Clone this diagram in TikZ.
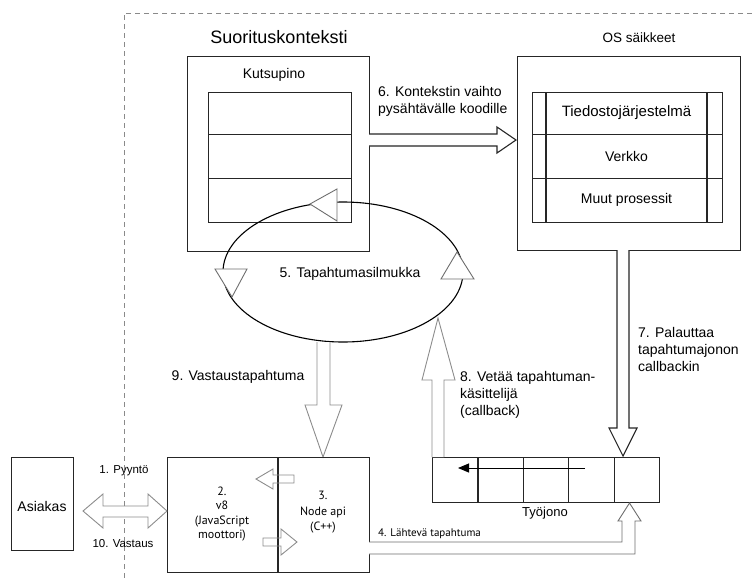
\documentclass[tikz,border=0pt]{standalone}
\usepackage{fontspec}
\setmainfont{Liberation Sans}
\newfontfamily\ptsans{PT Sans}
\usetikzlibrary{arrows.meta,calc}
\definecolor{boxcol}{HTML}{262626}
\definecolor{arrgray}{HTML}{8C8C8C}
\definecolor{headgray}{HTML}{6E6E6E}
\definecolor{dashcol}{HTML}{8A8A8A}
\begin{document}
\begin{tikzpicture}[x=1pt,y=-1pt,
  box/.style={draw=boxcol, line width=1.1pt, inner sep=0pt, anchor=north west},
  lbl/.style={inner sep=0pt, font=\fontsize{14}{17}\selectfont},
  small/.style={inner sep=0pt, font=\fontsize{11.5}{14}\selectfont},
  engine/.style={inner sep=0pt, align=center, font=\ptsans\fontsize{12}{14.5}\selectfont},
  hollow/.style={draw=arrgray, line width=0.9pt, fill=white, line join=miter},
  darkhollow/.style={draw=boxcol, line width=1.1pt, fill=white, line join=miter},
  loopline/.style={draw=black, line width=1.1pt},
  loophead/.style={draw=headgray, line width=0.9pt, fill=white, line join=miter},
  border/.style={draw=dashcol, dash pattern=on 5pt off 4pt, line width=0.7pt}]
\useasboundingbox (0,0) rectangle (752,579);

% system boundary
\coordinate (bcorner) at (124,13);
\coordinate (bright) at (752,13);
\coordinate (bbottom) at (124,579);
\draw[border] (bright) -- (bcorner) -- (bbottom);

% execution context with call stack
\node[lbl, font=\fontsize{18}{20}\selectfont] (ctxtitle) at (279,37) {Suorituskonteksti};
\node[box, minimum width=182pt, minimum height=195pt] (ctx) at (187,56) {};
\node[lbl] (stacktitle) at (274,75) {Kutsupino};
\node[box, minimum width=143pt, minimum height=42pt] (st1) at (208,92) {};
\node[box, minimum width=143pt, minimum height=44pt] (st2) at (208,134) {};
\node[box, minimum width=143pt, minimum height=44pt] (st3) at (208,178) {};

% OS threads
\node[lbl, font=\fontsize{13.5}{16}\selectfont] (ostitle) at (639,38) {OS säikkeet};
\node[box, minimum width=223pt, minimum height=194pt] (os) at (517,56) {};
\node[box, minimum width=190pt, minimum height=42pt] (os1) at (532,92) {};
\node[box, minimum width=190pt, minimum height=44pt] (os2) at (532,134) {};
\node[box, minimum width=190pt, minimum height=44pt] (os3) at (532,178) {};
\draw[boxcol, line width=1.1pt] (546,92) -- (546,222);
\draw[boxcol, line width=1.1pt] (707,92) -- (707,222);
\node[lbl, font=\fontsize{15}{17}\selectfont] at (626.5,113) {Tiedostojärjestelmä};
\node[lbl] at (626.5,156) {Verkko};
\node[lbl] at (626.5,200) {Muut prosessit};

% 6. context switch
\draw[darkhollow] (369,134) -- (497,134) -- (497,127) -- (516,140) -- (497,153) -- (497,146) -- (369,146);
\node[lbl, align=left, anchor=west] (lbl6) at (378,101) {6. Kontekstin vaihto\\pysähtävälle koodille};

% 7. back to the queue
\draw[darkhollow] (617,250) -- (617,428) -- (609,428) -- (623,456) -- (637,428) -- (629,428) -- (629,250);
\node[lbl, align=left, anchor=west] (lbl7) at (638,349) {7. Palauttaa\\tapahtumajonon\\callbackin};

% event loop
\draw[loopline] (343,272) ellipse [x radius=120pt, y radius=70pt];
\draw[loophead] (337,189) -- (337,221) -- (310,204) -- cycle;
\draw[loophead] (215,269) -- (247,269) -- (232,297) -- cycle;
\draw[loophead] (441,279) -- (474,279) -- (457,252) -- cycle;
\node[lbl] (loop) at (350,274) {5. Tapahtumasilmukka};

% work queue
\node[box, minimum width=45.4pt, minimum height=45pt] (q1) at (432,457) {};
\node[box, minimum width=45.4pt, minimum height=45pt] (q2) at (477.4,457) {};
\node[box, minimum width=45.4pt, minimum height=45pt] (q3) at (522.8,457) {};
\node[box, minimum width=45.4pt, minimum height=45pt] (q4) at (568.2,457) {};
\node[box, minimum width=45.4pt, minimum height=45pt] (q5) at (613.6,457) {};
\coordinate (qfrom) at (585,468);
\coordinate (qto) at (458,468);
\draw[black, line width=1pt, -{Triangle[length=11pt,width=9pt]}] (qfrom) -- (qto);
\node[lbl, font=\fontsize{13}{15}\selectfont] (queue) at (545,513) {Työjono};

% 8. handler pulled from the queue
\draw[hollow] (432,457) -- (432,380) -- (422,380) -- (438,318) -- (455,380) -- (444,380) -- (444,457);
\node[lbl, align=left, anchor=west] (lbl8) at (460,395) {8. Vetää tapahtuman-\\käsittelijä\\(callback)};

% 9. response event
\draw[hollow] (317,342) -- (317,405) -- (305,405) -- (323,457) -- (342,405) -- (330,405) -- (330,342);
\node[lbl] (lbl9) at (238,377) {9. Vastaustapahtuma};

% client
\node[box, minimum width=62pt, minimum height=93pt] (client) at (11,457) {};
\node[lbl] at (42,506) {Asiakas};

% engine and node api
\node[box, minimum width=202pt, minimum height=115pt] (engine) at (167,457) {};
\draw[boxcol, line width=1.1pt] (278,457) -- (278,572);
\node[engine] (v8) at (222,514) {2.\\v8\\(JavaScript\\moottori)};
\node[engine, font=\ptsans\fontsize{12}{15.5}\selectfont] (api) at (323,512.5) {3.\\Node api\\(C++)};
\draw[draw=arrgray, line width=0.9pt, line join=miter] (294,475) -- (273,475) -- (273,469) -- (256,479) -- (273,489) -- (273,483) -- (294,483) -- cycle;
\draw[draw=arrgray, line width=0.9pt, line join=miter] (263,538) -- (281,538) -- (281,529) -- (297,542) -- (281,555) -- (281,546) -- (263,546) -- cycle;

% 1. request / 10. response
\draw[hollow] (83,511) -- (103,494) -- (103,506) -- (148,506) -- (148,494) -- (167,511) -- (148,528) -- (148,517) -- (103,517) -- (103,528) -- cycle;
\node[small] (lbl1) at (124,471) {1. Pyyntö};
\node[small] (lbl10) at (123,544) {10. Vastaus};

% 4. outgoing event
\draw[draw=headgray, line width=0.9pt, fill=white, line join=miter] (369,542) -- (622,542) -- (622,521) -- (618,521) -- (629.5,503) -- (641,521) -- (635,521) -- (635,554) -- (369,554);
\node[inner sep=0pt, anchor=west, font=\ptsans\fontsize{11}{13}\selectfont] (lbl4) at (378,534) {4. Lähtevä tapahtuma};
\end{tikzpicture}
\end{document}
